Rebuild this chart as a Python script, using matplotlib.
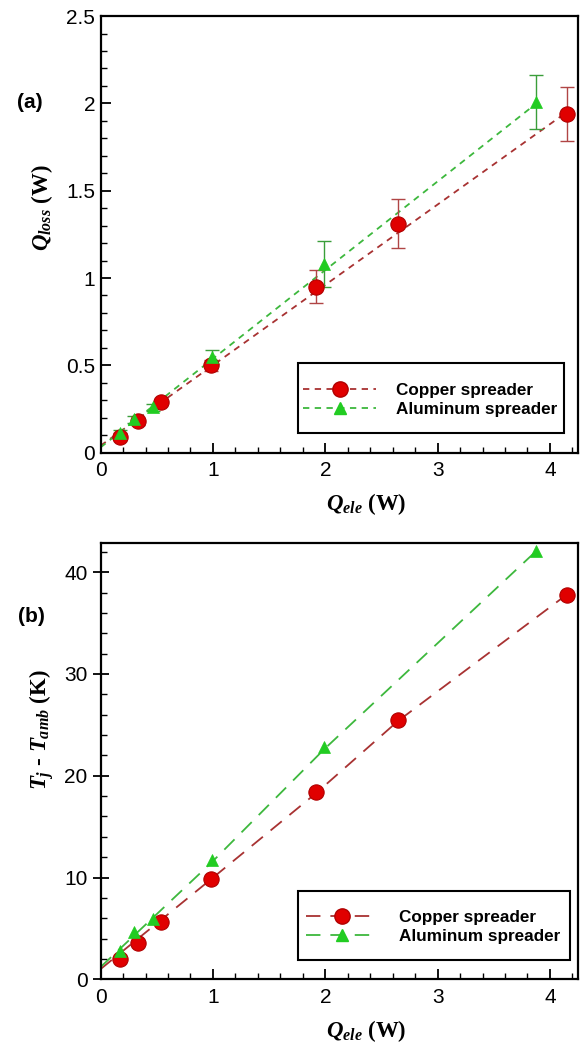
import matplotlib
matplotlib.use("Agg")
import matplotlib.pyplot as plt
from matplotlib.lines import Line2D
from matplotlib.patches import Rectangle
from matplotlib.ticker import MultipleLocator

# ---------------- data ----------------
cu_x = [0.17, 0.33, 0.54, 0.98, 1.92, 2.65, 4.15]
al_x = [0.17, 0.30, 0.47, 0.99, 1.99, 3.88]

# (a) heat loss
cu_qloss = [0.09, 0.18, 0.29, 0.50, 0.95, 1.31, 1.94]
cu_qloss_err = [0.02, 0.02, 0.02, 0.03, 0.095, 0.14, 0.155]
al_qloss = [0.11, 0.19, 0.26, 0.55, 1.08, 2.01]
al_qloss_err = [0.02, 0.02, 0.02, 0.04, 0.13, 0.155]
cu_qloss_line_x = [0.0, 4.15]
cu_qloss_line_y = [0.04, 1.95]
al_qloss_line_x = [0.0, 3.88]
al_qloss_line_y = [0.03, 2.00]

# (b) junction temperature rise
cu_dt = [2.0, 3.6, 5.6, 9.9, 18.4, 25.5, 37.8]
al_dt = [2.8, 4.6, 5.9, 11.7, 22.8, 42.1]
cu_dt_line_x = [0.0, 0.98, 1.92, 2.65, 4.15]
cu_dt_line_y = [1.0, 9.8, 18.3, 25.4, 37.8]
al_dt_line_x = [0.0, 0.99, 1.99, 3.88]
al_dt_line_y = [1.2, 11.5, 22.6, 42.1]

labels = ["Copper spreader", "Aluminum spreader"]
a_yticks = [0, 0.5, 1, 1.5, 2, 2.5]
a_yticklabels = ["0", "0.5", "1", "1.5", "2", "2.5"]
b_yticks = [0, 10, 20, 30, 40]
xticks = [0, 1, 2, 3, 4]

# ---------------- style ----------------
plt.rcParams['font.family'] = ['Liberation Sans', 'DejaVu Sans']
plt.rcParams['mathtext.fontset'] = 'custom'
plt.rcParams['mathtext.rm'] = 'Liberation Serif:bold'
plt.rcParams['mathtext.it'] = 'Liberation Serif:italic:bold'
plt.rcParams['mathtext.bf'] = 'Liberation Serif:bold'

RED_FACE = '#E00000'
RED_EDGE = '#B00000'
RED_LINE = '#A83232'
RED_ERR = '#B04545'
GRN_FACE = '#22CC22'
GRN_LINE = '#3DB83D'
GRN_ERR = '#3A9E3A'

LABEL_FONT = dict(family=['Liberation Serif', 'DejaVu Serif'],
                  weight='bold', size=16.5)

fig = plt.figure(figsize=(5.8, 10.42), dpi=100)
ax_a = fig.add_axes([0.1734, 0.5656, 0.8232, 0.4190])
ax_b = fig.add_axes([0.1734, 0.0602, 0.8232, 0.4190])


def style_axes(ax):
    for s in ax.spines.values():
        s.set_linewidth(1.6)
        s.set_color('black')
    ax.xaxis.set_minor_locator(MultipleLocator(0.2))
    ax.tick_params(which='major', direction='in', length=7.5, width=1.3,
                   labelsize=15, top=False, right=False)
    ax.tick_params(axis='x', which='major', pad=6)
    ax.tick_params(axis='y', which='major', pad=4)
    ax.tick_params(which='minor', direction='in', length=4, width=1.0,
                   top=False, right=False)
    ax.set_xlim(0, 4.25)
    ax.set_xticks(xticks)
    ax.set_xticklabels([str(v) for v in xticks])


def framed_legend(ax, handles, box):
    x0, y0, x1, y1 = box
    ax.add_patch(Rectangle((x0, y0), x1 - x0, y1 - y0, transform=ax.transAxes,
                           facecolor='white', edgecolor='black', lw=1.5,
                           zorder=6))
    leg = ax.legend(handles, labels, loc='center',
                    bbox_to_anchor=((x0 + x1) / 2 - 0.002, (y0 + y1) / 2 - 0.004),
                    prop={'weight': 'bold', 'size': 12.3}, frameon=False,
                    handlelength=4.3, handletextpad=1.15, borderpad=0,
                    labelspacing=0.22, borderaxespad=0)
    leg.set_zorder(7)


# ---- panel (a) ----
ax = ax_a
short_dash = (3.5, 3.0)
ax.plot(cu_qloss_line_x, cu_qloss_line_y, color=RED_LINE, lw=1.3,
        dashes=short_dash, zorder=2)
ax.plot(al_qloss_line_x, al_qloss_line_y, color=GRN_LINE, lw=1.3,
        dashes=short_dash, zorder=2)
ax.errorbar(cu_x, cu_qloss, yerr=cu_qloss_err, fmt='none', ecolor=RED_ERR,
            elinewidth=1.0, capsize=5, capthick=1.0, zorder=3)
ax.errorbar(al_x, al_qloss, yerr=al_qloss_err, fmt='none', ecolor=GRN_ERR,
            elinewidth=1.0, capsize=5, capthick=1.0, zorder=3)
ax.plot(cu_x, cu_qloss, 'o', ms=11, mfc=RED_FACE, mec=RED_EDGE, mew=0.8,
        ls='none', zorder=4)
ax.plot(al_x, al_qloss, '^', ms=8.5, mfc=GRN_FACE, mec=GRN_FACE, mew=0.5,
        ls='none', zorder=5)
style_axes(ax)
ax.set_ylim(0, 2.5)
ax.yaxis.set_minor_locator(MultipleLocator(0.1))
ax.set_yticks(a_yticks)
ax.set_yticklabels(a_yticklabels)
ax.set_xlabel(r'$Q_{ele}$ (W)', fontdict=LABEL_FONT, labelpad=8, x=0.556)
ax.set_ylabel(r'$Q_{loss}$ (W)', fontdict=LABEL_FONT, labelpad=8, y=0.56)
fig.text(0.052, 0.902, '(a)', fontsize=15, fontweight='bold',
         ha='center', va='center')

h_a = [Line2D([], [], color=RED_LINE, lw=1.3, dashes=short_dash, marker='o',
              ms=11, mfc=RED_FACE, mec=RED_EDGE),
       Line2D([], [], color=GRN_LINE, lw=1.3, dashes=short_dash, marker='^',
              ms=8.5, mfc=GRN_FACE, mec=GRN_FACE)]
framed_legend(ax, h_a, (0.413, 0.045, 0.971, 0.205))

# ---- panel (b) ----
ax = ax_b
long_dash = (8.0, 5.5)
ax.plot(cu_dt_line_x, cu_dt_line_y, color=RED_LINE, lw=1.3,
        dashes=long_dash, zorder=2)
ax.plot(al_dt_line_x, al_dt_line_y, color=GRN_LINE, lw=1.3,
        dashes=long_dash, zorder=2)
ax.plot(cu_x, cu_dt, 'o', ms=11, mfc=RED_FACE, mec=RED_EDGE, mew=0.8,
        ls='none', zorder=4)
ax.plot(al_x, al_dt, '^', ms=8.5, mfc=GRN_FACE, mec=GRN_FACE, mew=0.5,
        ls='none', zorder=5)
style_axes(ax)
ax.set_ylim(0, 42.9)
ax.yaxis.set_minor_locator(MultipleLocator(2))
ax.set_yticks(b_yticks)
ax.set_yticklabels([str(v) for v in b_yticks])
ax.tick_params(axis='y', which='major', direction='inout', length=11)
ax.set_xlabel(r'$Q_{ele}$ (W)', fontdict=LABEL_FONT, labelpad=8, x=0.556)
ax.set_ylabel(r'$T_j$ - $T_{amb}$ (K)', fontdict=LABEL_FONT, labelpad=6,
              y=0.571)
fig.text(0.055, 0.408, '(b)', fontsize=15, fontweight='bold',
         ha='center', va='center')

h_b = [Line2D([], [], color=RED_LINE, lw=1.3, dashes=long_dash, marker='o',
              ms=11, mfc=RED_FACE, mec=RED_EDGE),
       Line2D([], [], color=GRN_LINE, lw=1.3, dashes=long_dash, marker='^',
              ms=8.5, mfc=GRN_FACE, mec=GRN_FACE)]
framed_legend(ax, h_b, (0.413, 0.044, 0.983, 0.202))

fig.savefig('out.png', dpi=100, facecolor='white')
